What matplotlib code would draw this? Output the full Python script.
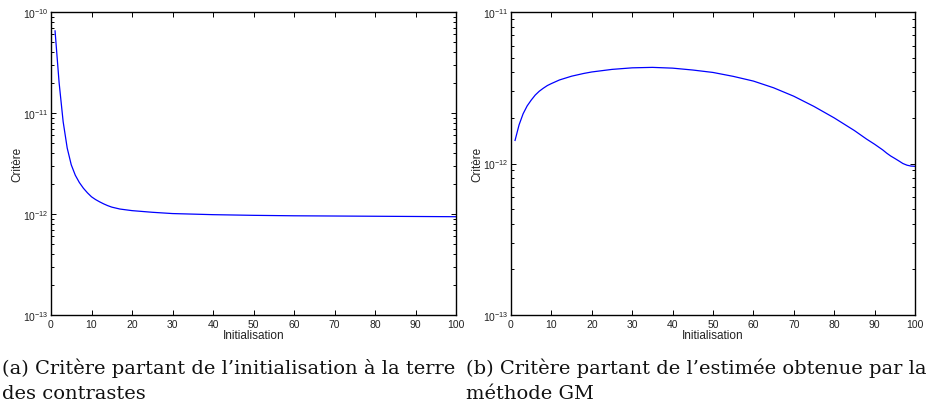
import matplotlib
matplotlib.use("Agg")
import matplotlib.pyplot as plt
import matplotlib.ticker as mticker
import numpy as np

# ---- data ----
x_a = [1, 2, 3, 4, 5, 6, 7, 8, 9, 10, 11, 12, 13, 14, 15, 17, 20, 25, 30, 40, 50, 60,
       70, 80, 90, 100]
crit_a = [6.5e-11, 2.0e-11, 8.2e-12, 4.5e-12, 3.07e-12, 2.42e-12, 2.05e-12, 1.8e-12,
          1.62e-12, 1.48e-12, 1.39e-12, 1.32e-12, 1.26e-12, 1.21e-12, 1.17e-12, 1.12e-12,
          1.08e-12, 1.04e-12, 1.01e-12, 0.985e-12, 0.97e-12, 0.96e-12, 0.955e-12,
          0.95e-12, 0.945e-12, 0.94e-12]

x_b = [1, 2, 3, 4, 5, 6, 7, 8, 9, 10, 12, 15, 18, 20, 25, 30, 35, 40, 45, 50, 55, 60,
       65, 70, 75, 80, 85, 88, 90, 92, 93, 94, 95, 96, 97, 98, 99, 100]
crit_b = [1.42e-12, 1.8e-12, 2.13e-12, 2.4e-12, 2.62e-12, 2.83e-12, 3.0e-12, 3.14e-12,
          3.27e-12, 3.37e-12, 3.56e-12, 3.77e-12, 3.93e-12, 4.02e-12, 4.18e-12, 4.28e-12,
          4.31e-12, 4.26e-12, 4.14e-12, 3.99e-12, 3.76e-12, 3.5e-12, 3.16e-12, 2.78e-12,
          2.38e-12, 2.0e-12, 1.65e-12, 1.45e-12, 1.34e-12, 1.23e-12, 1.17e-12, 1.12e-12,
          1.08e-12, 1.04e-12, 1.0e-12, 0.975e-12, 0.962e-12, 0.958e-12]

ylim_a = (1e-13, 1e-10)
ylim_b = (1e-13, 1e-11)
xticks = [0, 10, 20, 30, 40, 50, 60, 70, 80, 90, 100]
xlabel = "Initialisation"
ylabel = "Critère"
caption_a = ["(a) Critère partant de l’initialisation à la terre", "des contrastes"]
caption_b = ["(b) Critère partant de l’estimée obtenue par la", "méthode GM"]

plt.rcParams['font.family'] = ['Liberation Sans', 'DejaVu Sans']
plt.rcParams['mathtext.fontset'] = 'custom'
plt.rcParams['mathtext.rm'] = 'Liberation Sans'
plt.rcParams['mathtext.it'] = 'Liberation Sans:italic'
plt.rcParams['mathtext.bf'] = 'Liberation Sans:bold'

W, H = 928, 406
fig = plt.figure(figsize=(W / 100, H / 100), dpi=100)

def px_axes(l, r, t, b):
    return fig.add_axes([l / W, 1 - b / H, (r - l) / W, (b - t) / H])

ax_a = px_axes(51, 456, 13, 316)
ax_b = px_axes(511, 915, 13, 316)

for ax, xs, ys, yl in [(ax_a, x_a, crit_a, ylim_a), (ax_b, x_b, crit_b, ylim_b)]:
    ax.plot(xs, ys, color='#0000ff', lw=0.9)
    ax.set_yscale('log')
    ax.set_xlim(0, 100)
    ax.set_ylim(*yl)
    ax.set_xticks(xticks)
    ax.yaxis.set_major_locator(mticker.LogLocator(base=10, numticks=10))
    ax.yaxis.set_minor_locator(mticker.LogLocator(base=10, subs=np.arange(2, 10), numticks=10))
    ax.tick_params(which='both', direction='in', top=True, right=True, labelsize=7.5,
                   width=0.7, colors='black', labelcolor='#222222')
    ax.tick_params(which='major', length=3.5, pad=3)
    ax.tick_params(axis='y', which='major', pad=2)
    ax.tick_params(which='minor', length=2)
    for s in ax.spines.values():
        s.set_linewidth(1.0)
        s.set_color('black')
    ax.set_xlabel(xlabel, fontsize=8.5, labelpad=0, color='#222222')
    ax.set_ylabel(ylabel, fontsize=8.5, color='#222222')
    ax.yaxis.set_label_coords(-28 / 405, 0.5)

cap_font = dict(family=['DejaVu Serif'], fontsize=12, color='#111111',
                va='baseline', ha='left')
ta = fig.text(2 / W, 1 - 374 / H, caption_a[0], **cap_font)
tb = fig.text(466 / W, 1 - 374 / H, caption_b[0], **cap_font)
fig.canvas.draw()
r = fig.canvas.get_renderer()
wa = ta.get_window_extent(r).width
wb = tb.get_window_extent(r).width
fs = min(12 * 463 / wa, 12 * 458 / wb)
ta.set_fontsize(fs)
tb.set_fontsize(fs)
cap_font['fontsize'] = fs
fig.text(2 / W, 1 - 399 / H, caption_a[1], **cap_font)
fig.text(466 / W, 1 - 399 / H, caption_b[1], **cap_font)

fig.savefig("out.png", dpi=100)
